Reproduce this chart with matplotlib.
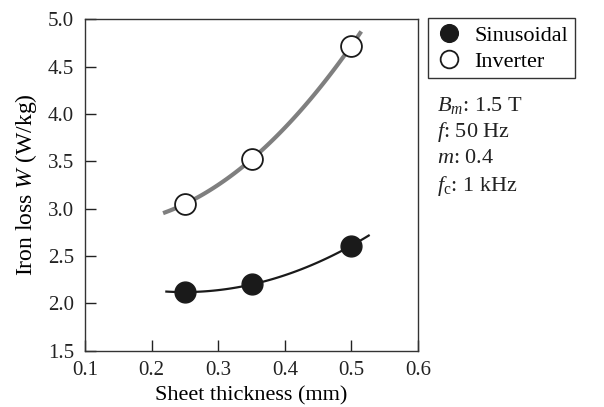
import numpy as np
import matplotlib
matplotlib.use('Agg')
import matplotlib.pyplot as plt

##################################################
# data
##################################################

thickness = [0.25, 0.35, 0.5]
sinusoidal = [2.12, 2.20, 2.61]
inverter = [3.05, 3.52, 4.72]

x_ticks = [0.1, 0.2, 0.3, 0.4, 0.5, 0.6]
y_ticks = [1.5, 2.0, 2.5, 3.0, 3.5, 4.0, 4.5, 5.0]

conditions = [r'$B_m$: 1.5 T', r'$f$: 50 Hz', r'$m$: 0.4', r'$f_\mathrm{c}$: 1 kHz']

##################################################
# style
##################################################

plt.rcParams['font.family'] = ['Liberation Serif', 'DejaVu Serif']
plt.rcParams['font.size'] = 16
plt.rcParams['mathtext.fontset'] = 'custom'
plt.rcParams['mathtext.rm'] = 'Liberation Serif'
plt.rcParams['mathtext.it'] = 'Liberation Serif:italic'

fig = plt.figure(figsize=(6.04, 4.07), dpi=100)
ax = fig.add_axes([0.141, 0.138, 0.551, 0.815])

# fitted trend curves (quadratic through the points)
xs_inv = np.linspace(0.22, 0.513, 100)
xs_sin = np.linspace(0.222, 0.526, 100)
p_inv = np.polyfit(thickness, inverter, 2)
p_sin = np.polyfit(thickness, sinusoidal, 2)
ax.plot(xs_inv, np.polyval(p_inv, xs_inv), color='#7f7f7f', lw=3, zorder=2)
ax.plot(xs_sin, np.polyval(p_sin, xs_sin), color='#1a1a1a', lw=1.6, zorder=2)

h1, = ax.plot(thickness, sinusoidal, 'o', ms=15, mfc='#1a1a1a', mec='#1a1a1a',
              lw=0, zorder=3, label='Sinusoidal')
h2, = ax.plot(thickness, inverter, 'o', ms=15, mfc='white', mec='#1a1a1a',
              mew=1.3, lw=0, zorder=3, label='Inverter')

ax.set_xlim(0.1, 0.6)
ax.set_ylim(1.5, 5.0)
ax.set_xticks(x_ticks)
ax.set_yticks(y_ticks)
ax.set_xticklabels([f'{v:.1f}' for v in x_ticks])
ax.set_yticklabels([f'{v:.1f}' for v in y_ticks])
ax.tick_params(direction='in', length=8, width=1, labelsize=15, colors='#222222')
ax.tick_params(axis='y', pad=8)
ax.tick_params(axis='x', pad=7)
for s in ax.spines.values():
    s.set_linewidth(1)
    s.set_color('#333333')

ax.set_xlabel('Sheet thickness (mm)', fontsize=16, labelpad=5)
ax.set_ylabel(r'Iron loss $W$ (W/kg)', fontsize=17, labelpad=6)

leg = fig.legend(handles=[h1, h2], loc='upper left', bbox_to_anchor=(0.708, 0.955),
                 fancybox=False, edgecolor='#333333', framealpha=1, fontsize=16,
                 handletextpad=0.5, borderpad=0.3, labelspacing=0.25, markerscale=0.85,
                 handlelength=1.3, borderaxespad=0)
leg.get_frame().set_linewidth(1)

for i, t in enumerate(conditions):
    fig.text(0.724, 0.742 - i * 0.066, t, fontsize=16, va='center', color='#222222')

fig.savefig('out.png', dpi=100)
